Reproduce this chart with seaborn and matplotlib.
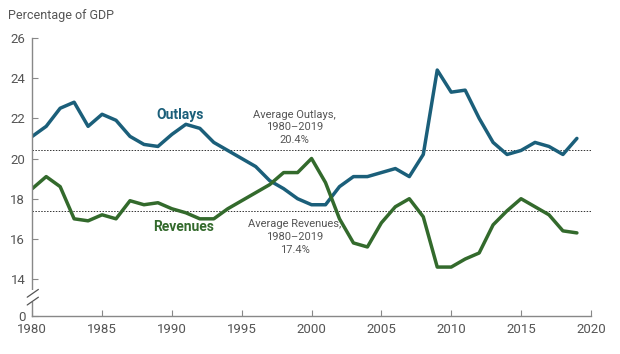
import seaborn as sns
import matplotlib.pyplot as plt
import pandas as pd
from matplotlib.patches import Rectangle
from matplotlib.lines import Line2D

years = list(range(1980, 2020))
outlays = [21.1, 21.6, 22.5, 22.8, 21.6, 22.2, 21.9, 21.1, 20.7, 20.6,
           21.2, 21.7, 21.5, 20.8, 20.4, 20.0, 19.6, 18.9, 18.5, 18.0,
           17.7, 17.7, 18.6, 19.1, 19.1, 19.3, 19.5, 19.1, 20.2, 24.4,
           23.3, 23.4, 22.0, 20.8, 20.2, 20.4, 20.8, 20.6, 20.2, 21.0]
revenues = [18.5, 19.1, 18.6, 17.0, 16.9, 17.2, 17.0, 17.9, 17.7, 17.8,
            17.5, 17.3, 17.0, 17.0, 17.5, 17.9, 18.3, 18.7, 19.3, 19.3,
            20.0, 18.8, 17.0, 15.8, 15.6, 16.8, 17.6, 18.0, 17.1, 14.6,
            14.6, 15.0, 15.3, 16.7, 17.4, 18.0, 17.6, 17.2, 16.4, 16.3]
avg_outlays = 20.4
avg_revenues = 17.4
y_ticks = [14, 16, 18, 20, 22, 24, 26]
x_ticks = [1980, 1985, 1990, 1995, 2000, 2005, 2010, 2015, 2020]

blue = "#1b5f7a"
green = "#336a2c"
grey = "#555555"

df = pd.DataFrame({"Year": years, "Outlays": outlays, "Revenues": revenues})

sns.set_theme(style="white")
plt.rcParams["font.family"] = ["Roboto", "DejaVu Sans"]

fig = plt.figure(figsize=(6.2, 3.54), dpi=100)
ax = fig.add_axes([0.052, 0.107, 0.901, 0.786])

sns.lineplot(data=df, x="Year", y="Outlays", color=blue, linewidth=2.5, ax=ax)
sns.lineplot(data=df, x="Year", y="Revenues", color=green, linewidth=2.5, ax=ax)

ax.axhline(avg_outlays, color="#333333", linestyle=(0, (1.5, 1.5)), linewidth=0.7, zorder=1)
ax.axhline(avg_revenues, color="#333333", linestyle=(0, (1.5, 1.5)), linewidth=0.7, zorder=1)

# broken y-axis: the "0" sits at the bottom of the compressed range
y_zero = 12.16
ax.set_xlim(1980, 2020)
ax.set_ylim(y_zero, 26)
ax.set_yticks([y_zero] + y_ticks)
ax.set_yticklabels(["0"] + [str(t) for t in y_ticks])
ax.set_xticks(x_ticks)
ax.set_xlabel("")
ax.set_ylabel("")

for side in ["top", "right"]:
    ax.spines[side].set_visible(False)
for side in ["left", "bottom"]:
    ax.spines[side].set_color("#888888")
    ax.spines[side].set_linewidth(1.0)

ax.tick_params(axis="both", direction="in", length=4, width=0.8, color="#888888",
               labelcolor=grey, labelsize=9.5, pad=5)
ax.tick_params(axis="y", left=True)
ax.tick_params(axis="x", bottom=True)

# gap and slashes for the axis break
ax.add_patch(Rectangle((-0.005, 0.05), 0.01, 0.045, transform=ax.transAxes,
                       facecolor="white", edgecolor="none", clip_on=False, zorder=5))
for y0 in [0.04, 0.068]:
    ax.add_line(Line2D([-0.009, 0.011], [y0, y0 + 0.028], transform=ax.transAxes,
                       color="#555555", linewidth=0.9, clip_on=False, zorder=6))

ax.text(1990.6, 22.15, "Outlays", color=blue, fontsize=10, fontweight="bold", ha="center", va="center")
ax.text(1990.8, 16.6, "Revenues", color=green, fontsize=10, fontweight="bold", ha="center", va="center")
ax.text(1998.8, 21.55, "Average Outlays,\n1980\u20132019\n20.4%", color=grey, fontsize=8,
        ha="center", va="center", linespacing=1.35)
ax.text(1998.8, 16.1, "Average Revenues,\n1980\u20132019\n17.4%", color=grey, fontsize=8,
        ha="center", va="center", linespacing=1.35)

fig.text(0.013, 0.955, "Percentage of GDP", color=grey, fontsize=9, ha="left", va="center")

fig.savefig("out.png", dpi=100, facecolor="white")
